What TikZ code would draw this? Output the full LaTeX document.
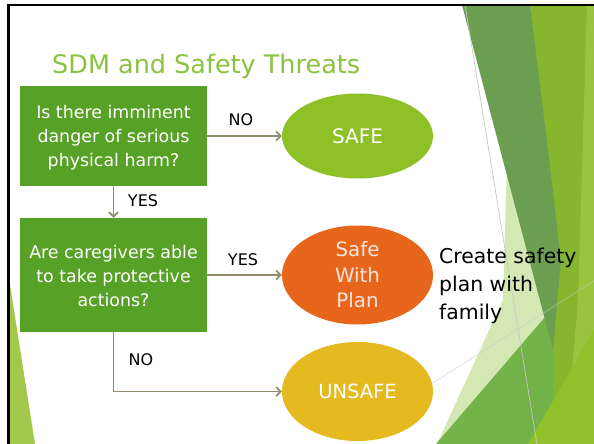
\documentclass[tikz,border=0pt]{standalone}
\usepackage{fontspec}
\setmainfont{DejaVu Sans}
\usetikzlibrary{shapes.geometric,arrows.meta}

\definecolor{boxgreen}{HTML}{57A126}
\definecolor{titlegreen}{HTML}{8CC23E}
\definecolor{safegreen}{HTML}{8DC126}
\definecolor{planorange}{HTML}{E8661C}
\definecolor{unsafeyellow}{HTML}{E5B920}
\definecolor{arrowtaupe}{HTML}{948B6A}
\definecolor{planwhite}{HTML}{F5E6DC}
\definecolor{facetdark}{HTML}{6C9E52}
\definecolor{facetmid}{HTML}{86B62E}
\definecolor{facetlight}{HTML}{99C43F}
\definecolor{facetbase}{HTML}{74B24A}
\definecolor{facetbright}{HTML}{8FC22A}
\definecolor{facetpale}{HTML}{D4E8B4}
\definecolor{facetleft}{HTML}{A3C84B}

\begin{document}
\begin{tikzpicture}[x=1pt,y=-1pt,
  qbox/.style={fill=boxgreen,inner sep=0pt,minimum width=187pt},
  qtext/.style={text=white,align=center,inner sep=0pt,
    font=\fontsize{17.4}{24}\selectfont},
  oval/.style={ellipse,inner sep=0pt,minimum width=151pt},
  ovaltext/.style={text=white,align=center,inner sep=0pt,
    font=\fontsize{20}{25.5}\selectfont},
  lbl/.style={text=black,inner sep=0pt,font=\fontsize{16}{19}\selectfont},
  arr/.style={draw=arrowtaupe,line width=1.7pt,
    -{Straight Barb[length=4.5pt,width=9pt]}},
  facetline/.style={draw=black!22,line width=0.7pt}]

\useasboundingbox (0,0) rectangle (594,444);
\fill[white] (0,0) rectangle (594,444);

% decorative facets on the right
\fill[facetpale] (507,160) -- (503,300) -- (437,444) -- (560,444) -- (560,200) -- cycle;
\fill[facetbase] (436,444) -- (594,260) -- (594,444) -- cycle;
\fill[facetmid] (530,5) -- (594,5) -- (594,444) -- (553,444) -- (553,350) -- cycle;
\fill[facetlight] (587,5) -- (594,5) -- (594,444) -- (566,444) -- (578,300) -- cycle;
\fill[facetdark] (462,5) -- (530,5) -- (548,150) -- (561,260) -- (553,350) -- cycle;
\fill[facetbright] (528,444) -- (594,330) -- (594,444) -- cycle;
\draw[facetline] (465,5) -- (537,444);
\draw[facetline,draw opacity=0.6] (420,391) -- (594,281);

% decorative facet on the left
\fill[facetleft] (8,272) -- (8,444) -- (35,444) -- cycle;

% title
\node[anchor=base west,inner sep=0pt,text=titlegreen,
  font=\fontsize{25.5}{30}\selectfont] (title) at (52,74) {SDM and Safety Threats};

% question boxes
\node[qbox,minimum height=100pt] (q1) at (113.5,136) {};
\node[qtext,yshift=-2pt] (q1t) at (q1)
  {Is there imminent\\danger of serious\\physical harm?};
\node[qbox,minimum height=114pt] (q2) at (113.5,275) {};
\node[qtext,yshift=-1.5pt] (q2t) at (q2)
  {Are caregivers able\\to take protective\\actions?};

% outcomes
\node[oval,fill=safegreen,minimum height=85pt] (safe) at (357.5,136) {};
\node[ovaltext] (safet) at (safe) {SAFE};
\node[oval,fill=planorange,minimum height=99pt] (plan) at (357.5,275) {};
\node[ovaltext,text=planwhite,font=\fontsize{19.8}{25.5}\selectfont] (plant) at (plan)
  {Safe\\With\\Plan};
\node[oval,fill=unsafeyellow,minimum height=99pt] (unsafe) at (357.5,391.5) {};
\node[ovaltext,font=\fontsize{19.5}{25}\selectfont] (unsafet) at (unsafe) {UNSAFE};

% connectors
\draw[arr] (q1.east) -- (safe.west);
\draw[arr] (q1.south) -- (q2.north);
\draw[arr] (q2.east) -- (plan.west);
\draw[arr] (q2.south) |- (unsafe.west);

% connector labels
\node[lbl] (no1) at (241,120) {NO};
\node[lbl] (yes1) at (143,201) {YES};
\node[lbl] (yes2) at (243,259.5) {YES};
\node[lbl] (no2) at (141,359.5) {NO};

% note beside the plan outcome
\node[anchor=west,align=left,inner sep=0pt,text=black,
  font=\fontsize{20.4}{28}\selectfont] (note) at (439,286)
  {Create safety\\plan with\\family};

% slide frame
\draw[black,line width=2.6pt] (8.3,444) -- (8.3,5) -- (594,5);
\end{tikzpicture}
\end{document}
